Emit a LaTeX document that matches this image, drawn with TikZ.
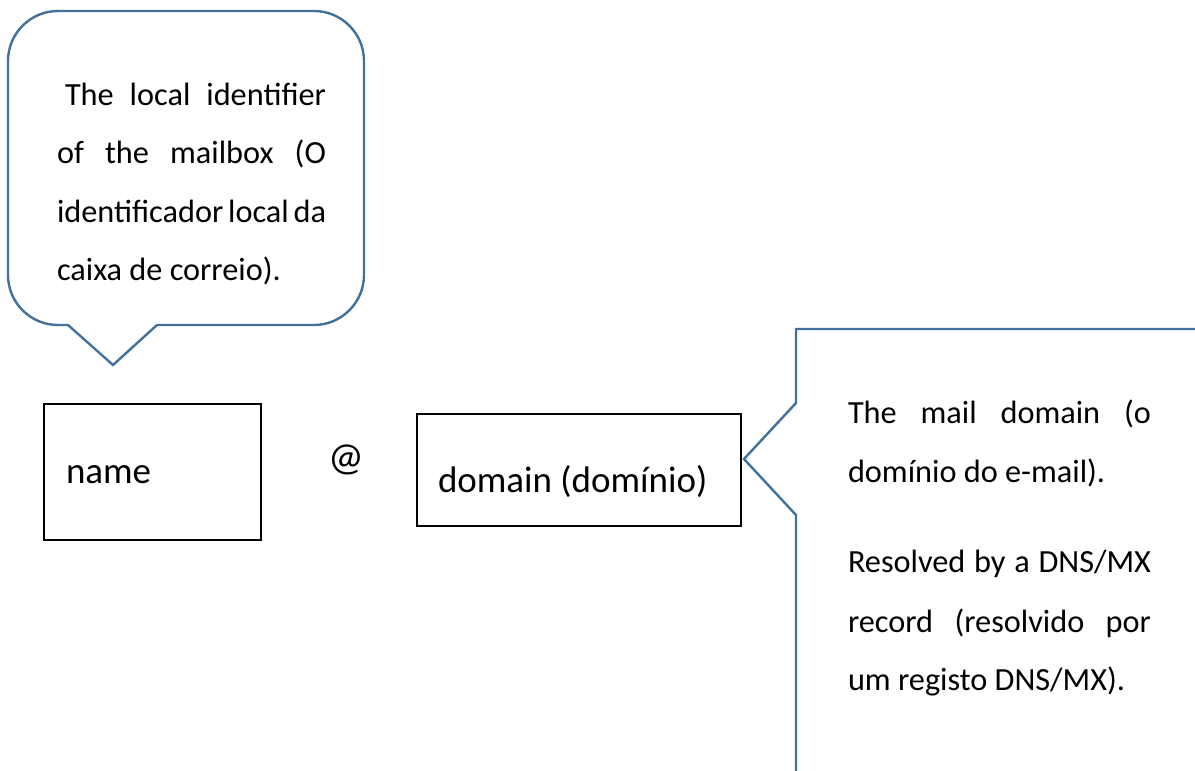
\documentclass[tikz,border=0pt]{standalone}
\usepackage{fontspec}
\setmainfont{Carlito}
\definecolor{callout}{HTML}{41719C}
\tikzset{
  callshape/.style={draw=callout, line width=2.4pt, line join=miter},
  plainbox/.style={draw=black, line width=1.1pt},
  txt/.style={anchor=base west, inner sep=0pt, outer sep=0pt, font=\fontsize{32.3}{38}\selectfont},
  bigtxt/.style={anchor=base west, inner sep=0pt, outer sep=0pt, font=\fontsize{37}{44}\selectfont},
}
\begin{document}
\begin{tikzpicture}[x=1pt,y=-1pt]
\useasboundingbox (0,0) rectangle (1195,771);
% top-left speech callout
\draw[callshape] (68,325) -- (113,365) -- (157,325) -- (314,325)
  .. controls (341.6,325) and (364,302.4) .. (364,275) -- (364,61)
  .. controls (364,33.4) and (341.6,11) .. (314,11) -- (58,11)
  .. controls (30.4,11) and (8,33.4) .. (8,61) -- (8,275)
  .. controls (8,302.6) and (30.4,325) .. (58,325) -- cycle;
\node[txt] (a1) at (65,105) {\makebox[261pt][s]{The local identifier}};
\node[txt] (a2) at (57,163) {\makebox[269pt][s]{of the mailbox (O}};
\node[txt] (a3) at (57,222) {\makebox[269pt][s]{identificador local da}};
\node[txt] (a4) at (57,280) {caixa de correio).};
% right callout (extends past the page)
\begin{scope}
\clip (0,0) rectangle (1195,771);
\draw[callshape] (1200,329) -- (796,329) -- (796,403) -- (744,459) -- (796,515) -- (796,780);
\end{scope}
\node[txt] (b1) at (848,423) {\makebox[303pt][s]{The mail domain (o}};
\node[txt] (b2) at (848,482) {domínio do e-mail).};
\node[txt] (b3) at (848,572) {\makebox[303pt][s]{Resolved by a DNS/MX}};
\node[txt] (b4) at (848,632) {\makebox[303pt][s]{record (resolvido por}};
\node[txt] (b5) at (848,690) {um registo DNS/MX).};
% boxes
\node[plainbox, minimum width=217pt, minimum height=136pt, inner sep=0pt] (namebox) at (152.5,472) {};
\node[bigtxt] (nametxt) at (66,483) {name};
\node[anchor=base, inner sep=0pt, font=\fontsize{40}{48}\selectfont] (at) at (346,470) {@};
\node[plainbox, minimum width=324pt, minimum height=112pt, inner sep=0pt] (dombox) at (579,470) {};
\node[bigtxt] (domtxt) at (438,492) {domain (domínio)};
\end{tikzpicture}
\end{document}
